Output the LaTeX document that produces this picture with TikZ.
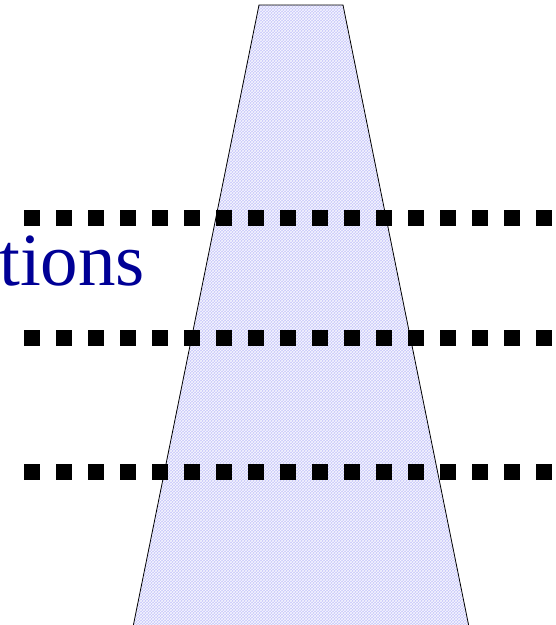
\documentclass[tikz,border=0pt]{standalone}
\usepackage{fontspec}
\setmainfont{Liberation Serif}
\usetikzlibrary{patterns}
\definecolor{bandfill}{RGB}{200,200,250}
\definecolor{labelblue}{RGB}{0,0,150}
\begin{document}
\begin{tikzpicture}[x=1pt,y=-1pt,
  band/.style={draw=black, line width=0.8pt, preaction={fill=bandfill},
    pattern=crosshatch, pattern color=white!85!bandfill},
  dotrow/.style={line width=16pt, dash pattern=on 16pt off 16pt},
  label/.style={inner sep=0pt, anchor=base west, text=labelblue,
    font=\fontsize{75}{90}\selectfont}]
\useasboundingbox (0,0) rectangle (556,625);
% tapered band
\coordinate (bl) at (133.4,625);
\coordinate (tl) at (259,5);
\coordinate (tr) at (343,5);
\coordinate (br) at (468.6,625);
\path[band] (bl) -- (tl) -- (tr) -- (br);
% dotted levels
\coordinate (a1) at (24,218);  \coordinate (b1) at (556,218);
\coordinate (a2) at (24,338);  \coordinate (b2) at (556,338);
\coordinate (a3) at (24,472);  \coordinate (b3) at (556,472);
\draw[dotrow] (a1) -- (b1);
\draw[dotrow] (a2) -- (b2);
\draw[dotrow] (a3) -- (b3);
\node[label] (lbl) at (-1,285) {tions};
\end{tikzpicture}
\end{document}
